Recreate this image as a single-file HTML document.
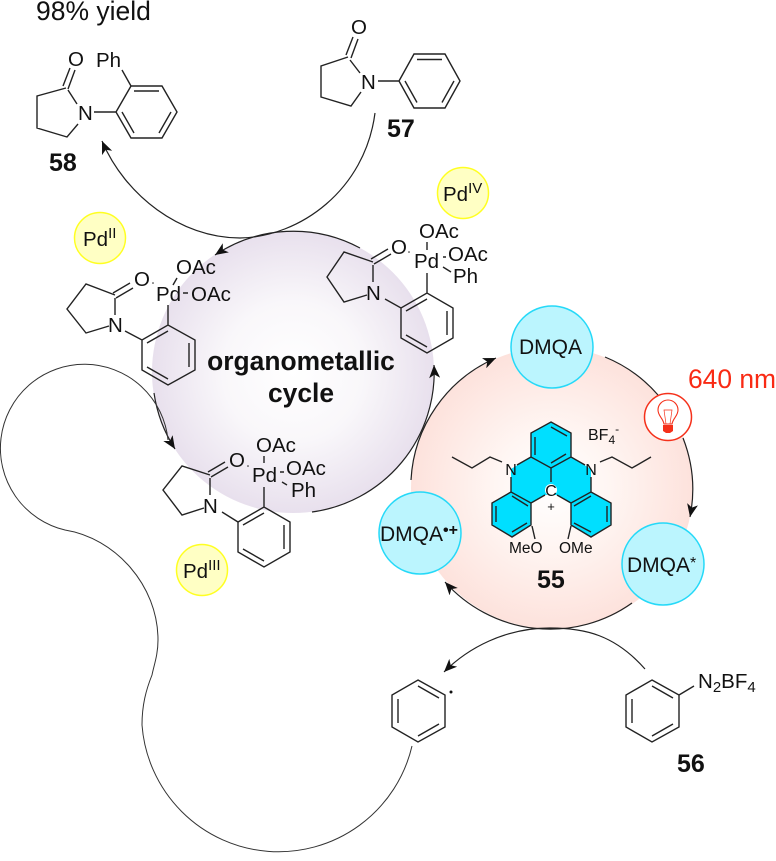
<!DOCTYPE html>
<html><head><meta charset="utf-8"><style>
html,body{margin:0;padding:0;background:#fff}
svg{display:block}
text{font-family:"Liberation Sans",Arial,sans-serif;fill:#111}
.b{stroke:#222;stroke-width:1.4;fill:none;stroke-linejoin:miter}
.a{stroke:#222;stroke-width:1.2;fill:none}
.t{font-size:20.500px}
.bd{font-weight:bold;font-size:25px}
.sup{font-size:15px}
</style></head><body>
<svg width="776" height="861" viewBox="0 0 776 861" xmlns="http://www.w3.org/2000/svg">
<defs>
<radialGradient id="pu"><stop offset="0" stop-color="#ffffff"/><stop offset=".5" stop-color="#f9f7fa"/><stop offset="1" stop-color="#e8e0ed"/></radialGradient>
<radialGradient id="pk"><stop offset="0" stop-color="#ffffff"/><stop offset=".4" stop-color="#fff6f3"/><stop offset="1" stop-color="#fde2dc"/></radialGradient>
<marker id="ar" markerUnits="userSpaceOnUse" markerWidth="14" markerHeight="12" refX="13" refY="5.5" orient="auto"><path d="M13 5.500L0 0L3.500 5.500L0 11Z" fill="#111"/></marker>
</defs>
<circle cx="293" cy="372" r="141" fill="url(#pu)"/>
<circle cx="552" cy="488" r="141" fill="url(#pk)"/>

<!-- arcs -->
<path class="a" d="M375 113C365 190 300 237 240 238C180 238 125 195 102 141" marker-end="url(#ar)"/>
<path class="a" d="M360 248A141 141 0 0 0 215 255" marker-end="url(#ar)"/>
<path class="a" d="M154 393A141 141 0 0 0 175 449" marker-end="url(#ar)"/>
<path class="a" d="M312 512A141 141 0 0 0 434 365" marker-end="url(#ar)"/>
<path class="a" d="M411 480A141 141 0 0 1 496 358" marker-end="url(#ar)"/>
<path class="a" d="M605 357A141 141 0 0 1 658 395"/>
<path class="a" d="M683 438A141 141 0 0 1 690 517" marker-end="url(#ar)"/>
<path class="a" d="M632 603A141 141 0 0 1 445 582" marker-end="url(#ar)"/>
<path class="a" d="M645 669C615 635 585 628 550 628C505 628 468 648 444 672" marker-end="url(#ar)"/>
<path d="M168 440A84 84 0 1 0 65 530C115 538 158 585 158 640C158 655 154 665 152 675C146 690 142 705 142 725A137 137 0 0 0 412 746" fill="none" stroke="#333" stroke-width="1"/>

<!-- top text -->
<text x="36" y="20" style="font-size:26.500px">98% yield</text>

<!-- 58 -->
<text x="68" y="66" class="t">O</text>
<text x="96" y="67" class="t">Ph</text>
<text x="78" y="120" class="t">N</text>
<path class="b" d="M63 86L70 68M68 89L75 70M66 88L37 96V128L67 137L78 124M68 90L77 104M94 112H116L131 86H162L177 112L162 138H131L116 112M131 86L122 70M134 91H159M122 112L134 133M171 112L159 133"/>
<text x="49" y="171" class="bd">58</text>

<!-- 57 -->
<text x="351" y="34" class="t">O</text>
<text x="361" y="89" class="t">N</text>
<path class="b" d="M346 55L353 37M351 58L358 39M348 57L321 66V97L351 106L361 92M350 60L360 73M378 81H399L414 54H445L460 81L445 108H414L399 81M417 59.500H442M405 81L417 102.500M454 81L442 102.500"/>
<text x="387" y="137" class="bd">57</text>

<!-- Pd circles -->
<g fill="#ffffc4" stroke="#ffff22" stroke-width="1.500">
<circle cx="463" cy="193" r="25.500"/><circle cx="100" cy="238" r="25.500"/><circle cx="202" cy="570" r="25.500"/>
</g>
<text x="443" y="201" class="t">Pd<tspan class="sup" dy="-8">IV</tspan></text>
<text x="83" y="246" class="t">Pd<tspan class="sup" dy="-8">II</tspan></text>
<text x="183" y="578" class="t">Pd<tspan class="sup" dy="-8">III</tspan></text>

<!-- Pd II complex -->
<text x="134" y="286" class="t">O</text>
<text x="156" y="301" class="t">Pd</text>
<text x="176" y="274" class="t">OAc</text>
<text x="191" y="301" class="t">OAc</text>
<text x="108" y="332" class="t">N</text>
<path class="b" d="M113 293L130 283M116 298L133 288M115 295L86 284L67 309L86 333L109 326M115 298V315M125 331L142 340L168 325L195 340V370L168 385L142 370V340M147 343L168 331M189 343V367M147 367L168 379M168 305V325M177 278L173 285M183 293H188"/>
<circle cx="153" cy="283" r=".8" fill="#222"/>

<!-- Pd IV complex -->
<text x="391" y="254" class="t">O</text>
<text x="414" y="268" class="t">Pd</text>
<text x="419" y="238" class="t">OAc</text>
<text x="448" y="261" class="t">OAc</text>
<text x="453" y="283" class="t">Ph</text>
<text x="366" y="300" class="t">N</text>
<path class="b" d="M371 259L388 249M374 264L391 254M373 262L344 252L327 277L344 302L367 295M373 265V282M385 299L401 308L427 293L453 308V338L427 353L401 338V308M406 311L427 299M447 311V335M406 335L427 347M427 273V293M427 242V250M443 267L451 272M443 257H446"/>
<circle cx="409" cy="252" r=".8" fill="#222"/>

<!-- Pd III complex -->
<text x="229" y="467" class="t">O</text>
<text x="252" y="482" class="t">Pd</text>
<text x="256" y="452" class="t">OAc</text>
<text x="286" y="475" class="t">OAc</text>
<text x="291" y="497" class="t">Ph</text>
<text x="203" y="513" class="t">N</text>
<path class="b" d="M208 472L225 462M211 477L228 467M210 475L182 466L163 490L182 515L204 508M210 478V495M222 512L238 522L264 507L290 522V552L264 567L238 552V522M243 525L264 513M284 525V549M243 549L264 561M264 487V507M264 456V463M282 482L287 485M280 472H284"/>
<circle cx="248" cy="466" r=".8" fill="#222"/>

<text x="301" y="370" text-anchor="middle" style="font-size:26.400px;font-weight:bold">organometallic</text>
<text x="301" y="402" text-anchor="middle" style="font-size:26.400px;font-weight:bold">cycle</text>

<!-- Dye 55 -->
<path d="M531 433L551 422L571 433V457L591 469V492L611 503V525L591 537L571 525V503L557 495H545L531 503V525L512 537L492 525V503L511 492V469L531 457Z" fill="#00dfff"/>
<path class="b" d="M551 422L571 433V457L551 468L531 457V433ZM551 427L567 436M535 437V455M551 463L566 454M551 468V482M531 457L517 465M571 457L585 465M511 477V492L531 503V525L512 537L492 525V503L511 492M512 496L528 506M496 506V522M512 532L527 523M531 503L545 495M591 477V492L571 503V525L591 537L611 525V503L591 492M591 496L574 506M607 506V522M574 523L591 532M571 503L557 495M532 526L535 539M571 526L568 539M452 457L472 468L490 457L502 462M600 462L612 457L632 468L651 457"/>
<circle cx="551" cy="490" r="6" fill="#fff"/>
<text x="511" y="475" text-anchor="middle" style="font-size:16px">N</text>
<text x="591" y="475" text-anchor="middle" style="font-size:16px">N</text>
<text x="551" y="496" text-anchor="middle" style="font-size:16px">C</text>
<text x="551" y="511" text-anchor="middle" style="font-size:13px">+</text>
<text x="588" y="440" style="font-size:16px">BF<tspan style="font-size:12px" dy="4">4</tspan><tspan style="font-size:12px" dy="-11">-</tspan></text>
<text x="509" y="553" style="font-size:15.500px">MeO</text>
<text x="559" y="553" style="font-size:15.500px">OMe</text>
<text x="537" y="588" class="bd">55</text>

<!-- blue circles -->
<g fill="#bbf5fe" stroke="#25d9f8" stroke-width="1.500">
<circle cx="552" cy="347" r="41"/><circle cx="663" cy="564" r="41"/><circle cx="420" cy="533" r="41"/>
</g>
<text x="519" y="354" style="font-size:21px">DMQA</text>
<text x="627" y="572" style="font-size:21px">DMQA<tspan style="font-size:16px" dy="-4">*</tspan></text>
<text x="380" y="541" style="font-size:21px">DMQA<tspan style="font-size:16px;font-weight:bold" dy="-6">•+</tspan></text>

<!-- bulb -->
<circle cx="668" cy="417" r="23.500" fill="#fff" stroke="#f5301a" stroke-width="1.500"/>
<path d="M664 424C663 418 658 416 658 410A10 10 0 0 1 678 410C678 416 673 418 672 424Z" fill="none" stroke="#f5301a" stroke-width="1.100"/>
<path d="M666 424L664 410H672L670 424" fill="none" stroke="#f5301a" stroke-width=".7"/>
<path d="M663 425H673V431L670 433H666L663 431Z" fill="#f5301a"/>
<text x="688" y="388" style="font-size:26.400px;fill:#f92a14">640 nm</text>

<!-- radical -->
<path class="b" d="M418 680L445 695V727L418 742L392 727V695ZM418 686L439 698M398 699V723M418 736L439 724"/>
<circle cx="451" cy="692" r="1.500" fill="#111"/>

<!-- 56 -->
<path class="b" d="M652 680L679 695V727L652 742L626 727V695ZM652 686L673 698M632 699V723M652 736L673 724M679 695L694 686"/>
<text x="698" y="688" class="t">N<tspan style="font-size:15px" dy="4">2</tspan><tspan dy="-4">BF</tspan><tspan style="font-size:15px" dy="4">4</tspan></text>
<text x="677" y="772" class="bd">56</text>
</svg>
</body></html>
